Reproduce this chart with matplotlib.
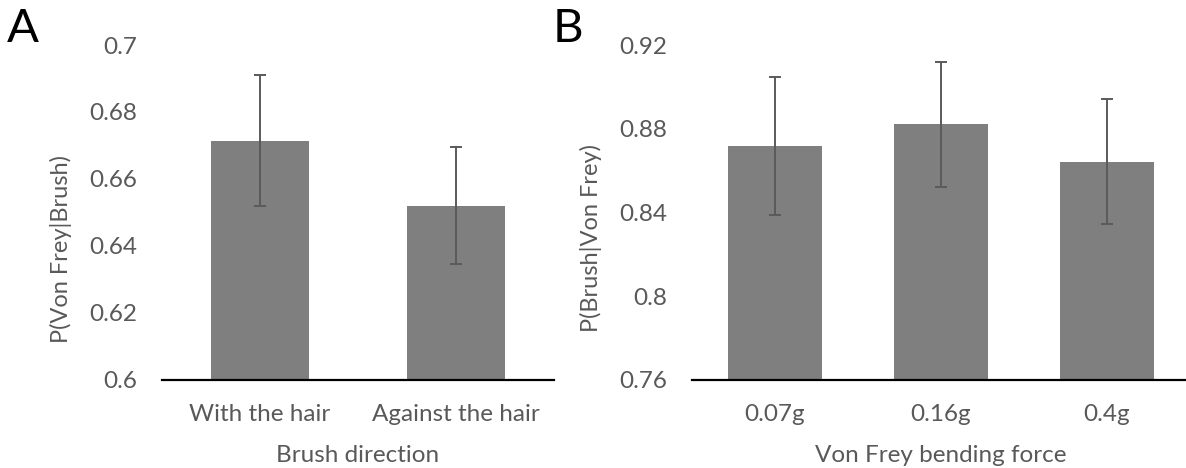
import matplotlib
matplotlib.use("Agg")
import matplotlib.pyplot as plt

plt.rcParams['font.family'] = ['Lato', 'DejaVu Sans']

# Panel A data
dir_labels = ['With the hair', 'Against the hair']
dir_means = [0.6714, 0.6520]
dir_err = [0.0195, 0.0175]

# Panel B data
force_labels = ['0.07g', '0.16g', '0.4g']
force_means = [0.8719, 0.8821, 0.8643]
force_err = [0.0330, 0.0300, 0.0300]

TXT = '#595959'
BAR = '#7f7f7f'
W, H = 1186, 468

fig = plt.figure(figsize=(W / 100, H / 100), dpi=100)


def make_panel(rect, labels, means, errs, ylim, yticks, ytlabels, width,
               ylabel, ylab_y, xlabel, letter, letter_x):
    l, r, t, b = rect
    ax = fig.add_axes([l / W, 1 - b / H, (r - l) / W, (b - t) / H])
    x = range(len(labels))
    ax.bar(x, means, width=width, color=BAR, zorder=2)
    ax.errorbar(x, means, yerr=errs, fmt='none', ecolor='#5a5a5a',
                elinewidth=1.4, capsize=4, capthick=1.4, zorder=3)
    ax.set_xlim(-0.5, len(labels) - 0.5)
    ax.set_ylim(*ylim)
    ax.set_yticks(yticks)
    ax.set_yticklabels(ytlabels)
    ax.set_xticks(list(x))
    ax.set_xticklabels(labels)
    for s in ['top', 'right', 'left']:
        ax.spines[s].set_visible(False)
    ax.spines['bottom'].set_color('black')
    ax.spines['bottom'].set_linewidth(1.6)
    ax.spines['bottom'].set_zorder(4)
    ax.tick_params(axis='y', length=0, pad=18, labelsize=17.5, labelcolor=TXT)
    ax.tick_params(axis='x', length=0, pad=17, labelsize=17.5, labelcolor=TXT)
    ax.set_ylabel(ylabel, fontsize=17, color=TXT)
    ax.yaxis.set_label_coords(-90 / (r - l), ylab_y)
    ax.set_xlabel(xlabel, fontsize=17.5, color=TXT, labelpad=15)
    fig.text(letter_x / W, 1 - 29 / H, letter, fontsize=34, color='black',
             va='center', ha='left')
    return ax


make_panel((162, 554, 45, 380), dir_labels, dir_means, dir_err,
           (0.6, 0.7), [0.6, 0.62, 0.64, 0.66, 0.68, 0.7],
           ['0.6', '0.62', '0.64', '0.66', '0.68', '0.7'], 0.5,
           'P(Von Frey|Brush)', 0.39, 'Brush direction', 'A', 7)

make_panel((692, 1190, 45, 380), force_labels, force_means, force_err,
           (0.76, 0.92), [0.76, 0.8, 0.84, 0.88, 0.92],
           ['0.76', '0.8', '0.84', '0.88', '0.92'], 0.565,
           'P(Brush|Von Frey)', 0.425, 'Von Frey bending force', 'B', 553)

fig.savefig('out.png', dpi=100)
